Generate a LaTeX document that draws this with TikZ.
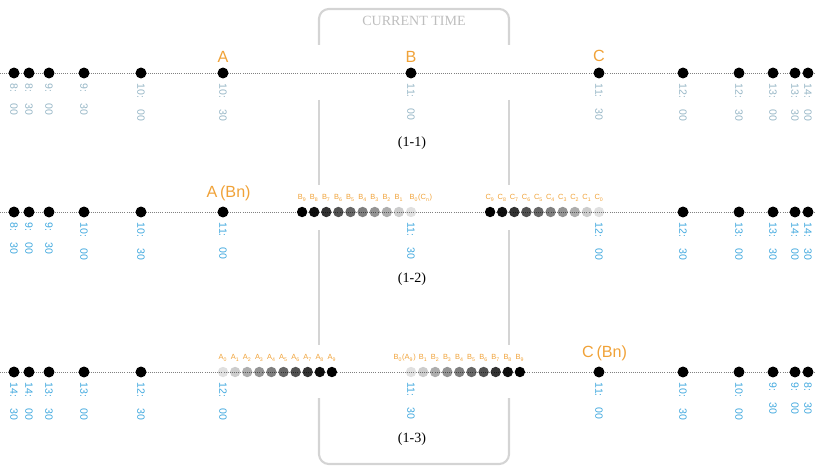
\documentclass[tikz,border=0pt]{standalone}
\usepackage{fontspec}
\setmainfont{Liberation Serif}
\setsansfont{Liberation Sans}
\usepackage{tikz}
\usetikzlibrary{positioning}
\definecolor{tagOrange}{RGB}{240,162,56}
\definecolor{paleBlue}{RGB}{150,182,198}
\definecolor{skyBlue}{RGB}{64,168,222}
\definecolor{frameGray}{RGB}{212,212,212}
\definecolor{titleGray}{RGB}{190,190,190}

\begin{document}
\begin{tikzpicture}[
  x=0.025cm, y=-0.025cm,
  hourdot/.style={
    circle,
    fill=black,
    inner sep=0pt,
    minimum size=7.8pt
  },
  stepdot/.style={
    circle,
    fill=black,
    fill opacity=#1,
    inner sep=0pt,
    minimum size=7.4pt
  },
  track/.style={densely dotted, gray, line width=0.5pt},
  stamp/.style={
    rotate=-90,
    anchor=west,
    inner sep=0pt,
    font=\sffamily\fontsize{7.5}{8}\selectfont
  },
  tag/.style={
    text=tagOrange,
    inner sep=0pt,
    font=\sffamily\fontsize{11.5}{12}\selectfont
  },
  subtag/.style={
    text=tagOrange,
    inner sep=0pt,
    font=\sffamily\fontsize{5.3}{5.5}\selectfont
  },
  rim/.style={frameGray, line width=1.5pt, rounded corners=7pt},
  caption/.style={font=\fontsize{10}{11}\selectfont},
]
\useasboundingbox (0,0) rectangle (815,466);

% current time frame
\draw[rim] (319,45) -- (319,9) -- (509,9) -- (509,45);
\draw[rim] (319,100) -- (319,185);
\draw[rim] (509,100) -- (509,185);
\draw[rim] (319,230) -- (319,345);
\draw[rim] (509,230) -- (509,345);
\draw[rim] (319,398) -- (319,464) -- (509,464) -- (509,398);
\node[text=titleGray, font=\fontsize{10}{11}\selectfont] (now) at (414,21) {CURRENT TIME};

% tracks
\foreach \r/\y in {1/73, 2/212, 3/372} {
  \coordinate (w\r) at (0,\y);
  \coordinate (e\r) at (815,\y);
  \draw[track] (w\r) -- (e\r);
}

% (1-1)
\foreach \x/\h/\m [count=\i] in {14/8/00, 29/8/30, 49/9/00, 84/9/30, 141/10/00,
    223/10/30, 411/11/00, 599/11/30, 683/12/00, 739/12/30, 773/13/00,
    795/13/30, 808/14/00} {
  \node[hourdot] (h1-\i) at (\x,73) {};
  \node[stamp, text=paleBlue] (s1-\i) at ([yshift=-3.5pt]h1-\i.south) {\h:\hspace{1.05em}\m};
}
\node[tag, above=3.5pt of h1-6] (tagA) {A};
\node[tag, above=3.5pt of h1-7] (tagB) {B};
\node[tag, above=3.5pt of h1-8] (tagC) {C};
\node[caption] (cap1) at (412,143) {(1-1)};

% (1-2)
\foreach \x/\h/\m [count=\i] in {14/8/30, 29/9/00, 49/9/30, 84/10/00, 141/10/30,
    223/11/00, 683/12/30, 739/13/00, 773/13/30, 795/14/00, 808/14/30} {
  \node[hourdot] (h2-\i) at (\x,212) {};
  \node[stamp, text=skyBlue] (s2-\i) at ([yshift=-3.5pt]h2-\i.south) {\h:\hspace{1.05em}\m};
}
\foreach \k/\op in {0/.12, 1/.2, 2/.32, 3/.42, 4/.5, 5/.6, 6/.68, 7/.8, 8/.94, 9/1} {
  \node[stepdot=\op] (b2-\k) at (411-12.1*\k,212) {};
  \node[stepdot=\op] (c2-\k) at (599-12.1*\k,212) {};
  \node[subtag, above=3.5pt of c2-\k] (ct2-\k) {C\textsubscript{\k}};
}
\foreach \k in {1,...,9} {
  \node[subtag, above=3.5pt of b2-\k] (bt2-\k) {B\textsubscript{\k}};
}
\node[subtag, above=3.5pt of b2-0, xshift=7pt] (bt2-0) {B\textsubscript{0}(C\textsubscript{n})};
\node[stamp, text=skyBlue] (sb2) at ([yshift=-3.5pt]b2-0.south) {11:\hspace{1.05em}30};
\node[stamp, text=skyBlue] (sc2) at ([yshift=-3.5pt]c2-0.south) {12:\hspace{1.05em}00};
\node[tag, above=3.5pt of h2-6, xshift=4pt] (tagAB) {A\,(Bn)};
\node[caption] (cap2) at (412,279) {(1-2)};

% (1-3)
\foreach \x/\h/\m [count=\i] in {14/14/30, 29/14/00, 49/13/30, 84/13/00, 141/12/30,
    599/11/00, 683/10/30, 739/10/00, 773/9/30, 795/9/00, 808/8/30} {
  \node[hourdot] (h3-\i) at (\x,372) {};
  \node[stamp, text=skyBlue] (s3-\i) at ([yshift=-3.5pt]h3-\i.south) {\h:\hspace{1.05em}\m};
}
\foreach \k/\op in {0/.12, 1/.2, 2/.32, 3/.42, 4/.5, 5/.6, 6/.68, 7/.8, 8/.94, 9/1} {
  \node[stepdot=\op] (a3-\k) at (223+12.1*\k,372) {};
  \node[stepdot=\op] (b3-\k) at (411+12.1*\k,372) {};
  \node[subtag, above=3.5pt of a3-\k] (at3-\k) {A\textsubscript{\k}};
}
\foreach \k in {1,...,9} {
  \node[subtag, above=3.5pt of b3-\k] (bt3-\k) {B\textsubscript{\k}};
}
\node[subtag, above=3.5pt of b3-0, xshift=-4.5pt] (bt3-0) {B\textsubscript{0}(A\textsubscript{9})};
\node[stamp, text=skyBlue] (sa3) at ([yshift=-3.5pt]a3-0.south) {12:\hspace{1.05em}00};
\node[stamp, text=skyBlue] (sb3) at ([yshift=-3.5pt]b3-0.south) {11:\hspace{1.05em}30};
\node[tag, above=3.5pt of h3-6, xshift=4pt] (tagCB) {C\,(Bn)};
\node[caption] (cap3) at (412,439) {(1-3)};

\end{tikzpicture}
\end{document}
